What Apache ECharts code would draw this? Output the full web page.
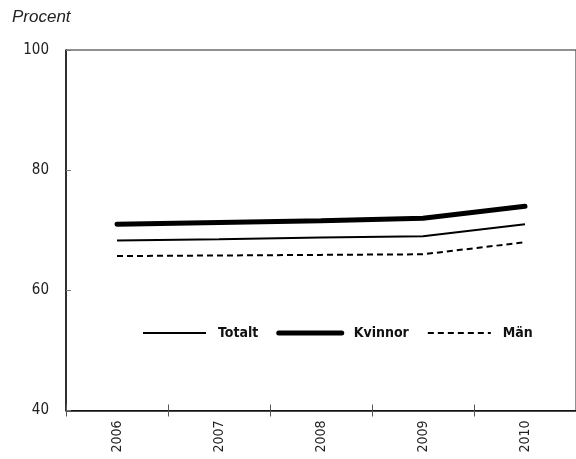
<!DOCTYPE html>
<html>
<head>
<meta charset="utf-8">
<script src="https://cdn.jsdelivr.net/npm/echarts@6/dist/echarts.min.js"></script>
<style>html,body{margin:0;padding:0;background:#fff}#c{width:576px;height:459px}</style>
</head>
<body>
<div id="c"></div>
<script>
const categories = ['2006', '2007', '2008', '2009', '2010'];
const totalt = [68.3, 68.5, 68.8, 69.0, 71.0];
const kvinnor = [71.0, 71.3, 71.6, 72.0, 74.0];
const man = [65.7, 65.8, 65.9, 66.0, 68.0];
const yTicks = [40, 60, 80, 100];

const FONT = '"DejaVu Sans Condensed", "Liberation Sans", sans-serif';
const chart = echarts.init(document.getElementById('c'), null, {renderer: 'canvas'});
chart.setOption({
  animation: false,
  backgroundColor: '#fff',
  title: {
    text: 'Procent', left: 12, top: 9, padding: 0,
    textStyle: {fontFamily: '"Liberation Sans", Arial, sans-serif', fontStyle: 'italic', fontWeight: 'normal', fontSize: 17, color: '#222'}
  },
  grid: {left: 66, top: 50, width: 517.5, height: 360.5, show: true, borderColor: '#222', borderWidth: 1, containLabel: false},
  legend: {
    top: 326, left: 142, padding: 0, itemWidth: 63, itemHeight: 12, itemGap: 18,
    textStyle: {fontFamily: FONT, fontWeight: 'bold', fontSize: 14, color: '#111', padding: [0, 0, 0, 7]},
    itemStyle: {opacity: 0},
    data: [
      {name: 'Totalt', itemStyle: {opacity: 0}, lineStyle: {color: '#000', width: 2}},
      {name: 'Kvinnor', itemStyle: {opacity: 0}, lineStyle: {color: '#000', width: 5, cap: 'round'}},
      {name: 'Män', itemStyle: {opacity: 0}, lineStyle: {color: '#000', width: 2, type: [6, 4]}}
    ]
  },
  xAxis: [{
    type: 'category', data: categories, boundaryGap: true,
    axisLine: {lineStyle: {color: '#111', width: 1.5}},
    axisTick: {show: true, length: 6, lineStyle: {color: '#555'}},
    axisLabel: {rotate: 90, margin: 10, fontFamily: FONT, fontSize: 14, color: '#222'},
    splitLine: {show: false}
  }, {
    type: 'category', data: categories, boundaryGap: true, position: 'bottom',
    axisLine: {show: false},
    axisTick: {show: true, inside: true, length: 6, lineStyle: {color: '#555'}},
    axisLabel: {show: false}, splitLine: {show: false}
  }],
  yAxis: {
    type: 'value', min: yTicks[0], max: yTicks[yTicks.length - 1], interval: 20,
    axisLine: {show: true, lineStyle: {color: '#111', width: 1.5}},
    axisTick: {show: true, inside: true, length: 5, lineStyle: {color: '#777'}},
    axisLabel: {margin: 17, fontFamily: FONT, fontSize: 15, color: '#222'},
    splitLine: {show: false}
  },
  series: [
    {name: 'Totalt', type: 'line', data: totalt, symbol: 'none', lineStyle: {color: '#000', width: 2}, itemStyle: {color: '#000'}},
    {name: 'Kvinnor', type: 'line', data: kvinnor, symbol: 'none', lineStyle: {color: '#000', width: 5, cap: 'round'}, itemStyle: {color: '#000'}},
    {name: 'Män', type: 'line', data: man, symbol: 'none', lineStyle: {color: '#000', width: 2, type: [6, 4]}, itemStyle: {color: '#000'}}
  ]
});
</script>
</body>
</html>
